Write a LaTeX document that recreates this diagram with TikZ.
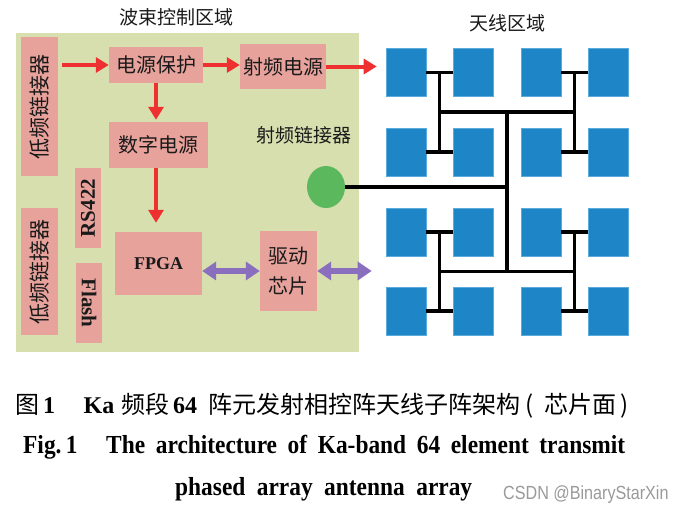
\documentclass[tikz,border=0pt]{standalone}
\usepackage{fontspec}
\setmainfont{Liberation Serif}
\newfontfamily\cjk{Noto Sans CJK SC}
\newfontfamily\capfont[FakeStretch=0.9]{Liberation Serif}
\newfontfamily\wmfont[FakeStretch=0.85]{Liberation Sans}
\usetikzlibrary{arrows.meta,shapes.geometric}
\definecolor{panel}{HTML}{D7DFAE}
\definecolor{pinkbox}{HTML}{E8A29C}
\definecolor{redarr}{HTML}{EE3130}
\definecolor{purparr}{HTML}{8B6FBF}
\definecolor{greenc}{HTML}{5CB85C}
\definecolor{bluesq}{HTML}{1E86C7}
\definecolor{blueedge}{HTML}{5BAADC}
\definecolor{wmgray}{HTML}{9A9A9A}
\definecolor{txt}{HTML}{1A1A1A}
\begin{document}
\begin{tikzpicture}[x=1pt,y=-1pt,
  pbox/.style={fill=pinkbox, inner sep=0pt, text=txt, font=\cjk\fontsize{20}{30}\selectfont, align=center},
  vbox/.style={fill=pinkbox, inner sep=0pt, text=txt, font=\bfseries\fontsize{21}{24}\selectfont},
  title/.style={text=txt, font=\cjk\fontsize{19}{22}\selectfont, inner sep=0pt},
  redarrow/.style={draw=redarr, line width=4pt, -{Triangle[width=15pt,length=13pt]}},
  purarrow/.style={draw=purparr, line width=6pt, {Triangle[width=18pt,length=14pt]}-{Triangle[width=18pt,length=14pt]}},
  sq/.style={fill=bluesq, draw=blueedge, line width=0.6pt, minimum width=40pt, minimum height=48pt, inner sep=0pt},
  feed/.style={line width=3.7pt, draw=black},
  capcjk/.style={font=\cjk\fontsize{24}{26}\selectfont, inner sep=0pt, anchor=base},
  caplat/.style={font=\bfseries\fontsize{24}{26}\selectfont, inner sep=0pt, anchor=base},
  capeng/.style={font=\capfont\bfseries\fontsize{26}{28}\selectfont, inner sep=0pt, anchor=base west}
]
\useasboundingbox (0,0) rectangle (690,514);
\fill[white] (0,0) rectangle (690,514);

% beam control region
\node[fill=panel, minimum width=343pt, minimum height=319pt, inner sep=0pt] (panel) at (187.5,192.5) {};
\node[title] (t1) at (176,17) {波束控制区域};
\node[title] (t2) at (507,23) {天线区域};
\node[title] (t3) at (304,135) {射频链接器};

\node[pbox, minimum width=37pt, minimum height=139pt, font=\cjk\fontsize{21}{24}\selectfont] (lf1) at (39.5,106.5) {\rotatebox{90}{低频链接器}};
\node[pbox, minimum width=37pt, minimum height=127pt, font=\cjk\fontsize{21}{24}\selectfont] (lf2) at (39.5,271.5) {\rotatebox{90}{低频链接器}};
\node[pbox, minimum width=94pt, minimum height=36pt] (pp) at (156,65) {电源保护};
\node[pbox, minimum width=86pt, minimum height=45pt] (rf) at (283,66.5) {射频电源};
\node[pbox, minimum width=99pt, minimum height=46pt] (dp) at (158.5,145) {数字电源};
\node[vbox, minimum width=26pt, minimum height=80pt] (rs) at (88,208) {\rotatebox{90}{RS422}};
\node[vbox, minimum width=26pt, minimum height=80pt] (fl) at (89,303) {\rotatebox{-90}{Flash}};
\node[pbox, minimum width=87pt, minimum height=63pt, font=\bfseries\fontsize{18}{20}\selectfont] (fpga) at (158.5,263.5) {FPGA};
\node[pbox, minimum width=57pt, minimum height=80pt] (drv) at (288.5,271) {驱动\\芯片};
\node[fill=greenc, ellipse, minimum width=38pt, minimum height=42pt, inner sep=0pt] (circ) at (326,187) {};

% antenna squares
\foreach \r/\yy in {1/72.5,2/152,3/232,4/311}{
  \foreach \c/\xx in {1/406,2/473,3/541,4/608.5}{
    \node[sq] (a\r\c) at (\xx,\yy) {};
  }
}

% feed network
\coordinate (h1) at (439.5,112);
\coordinate (h2) at (574.5,112);
\coordinate (h3) at (439.5,271.5);
\coordinate (h4) at (574.5,271.5);
\coordinate (c1) at (507,112);
\coordinate (c2) at (507,271.5);
\coordinate (cf) at (507,187);
\coordinate (v1) at (439.5,72.5);
\coordinate (v2) at (439.5,152);
\coordinate (v3) at (574.5,72.5);
\coordinate (v4) at (574.5,152);
\coordinate (v5) at (439.5,232);
\coordinate (v6) at (439.5,311);
\coordinate (v7) at (574.5,232);
\coordinate (v8) at (574.5,311);
\foreach \r in {1,2,3,4}{
  \draw[feed] (a\r1.east) -- (a\r2.west);
  \draw[feed] (a\r3.east) -- (a\r4.west);
}
\draw[feed] (v1) -- (v2);
\draw[feed] (v3) -- (v4);
\draw[feed] (v5) -- (v6);
\draw[feed] (v7) -- (v8);
\draw[feed] (h1) -- (h2);
\draw[feed] (h3) -- (h4);
\draw[feed] (c1) -- (c2);
\draw[feed] (circ.east) -- (cf);

% arrows
\draw[redarrow, shorten <=4pt] (lf1.east |- pp.west) -- (pp.west);
\draw[redarrow] (pp.east) -- (pp.east -| rf.west);
\draw[redarrow, shorten >=9pt] (rf.east) -- (rf.east -| a11.west);
\draw[redarrow, shorten >=2pt] (pp.south) -- (pp.south |- dp.north);
\draw[redarrow, shorten >=9pt] (pp.south |- dp.south) -- (pp.south |- fpga.north);
\draw[purarrow] (fpga.east |- drv.west) -- (drv.west);
\draw[purarrow, shorten >=14pt] (drv.east) -- (drv.east -| a41.west);

% caption
\node[capcjk] (k1) at (27,413) {图};
\node[caplat] (k2) at (49,413) {1};
\node[caplat] (k3) at (99,413) {Ka};
\node[capcjk] (k4) at (145,413) {频段};
\node[caplat] (k5) at (185,413) {64};
\node[capcjk, anchor=base west] (k6) at (208,413) {阵元发射相控阵天线子阵架构};
\node[capcjk] (k7) at (530,413) {(};
\node[capcjk] (k8) at (580,413) {芯片面};
\node[capcjk] (k9) at (625,413) {)};
\node[capeng] (e1) at (23,453) {Fig.\,1};
\node[capeng] (e2) at (106,453) {\makebox[519pt][s]{The architecture of Ka-band 64 element transmit}};
\node[capeng] (e3) at (175,495) {\makebox[297pt][s]{phased array antenna array}};
\node[font=\wmfont\fontsize{19}{22}\selectfont, text=wmgray, inner sep=0pt, anchor=base west] (wm) at (503,499) {CSDN @BinaryStarXin};
\end{tikzpicture}
\end{document}
